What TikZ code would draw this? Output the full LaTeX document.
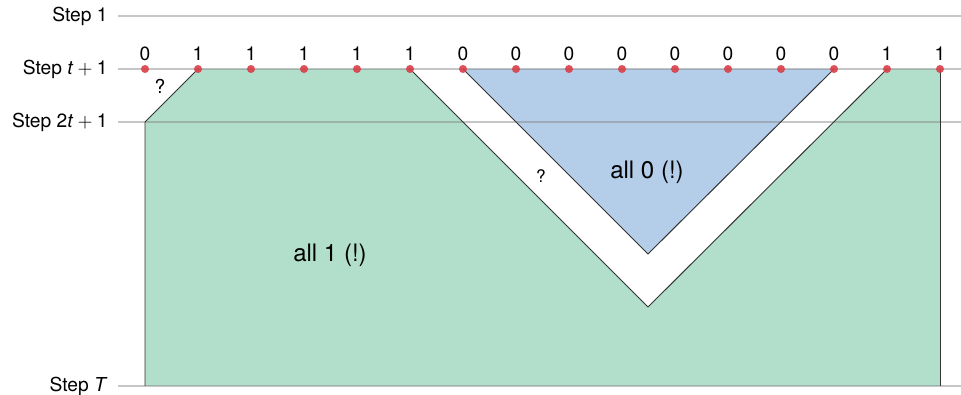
\documentclass[tikz,border=0pt]{standalone}
\usepackage{fontspec}
\setmainfont{TeX Gyre Heros}
\usetikzlibrary{positioning}
\definecolor{allone}{RGB}{178,223,204}
\definecolor{allzero}{RGB}{180,205,232}
\definecolor{dotred}{RGB}{218,62,72}

\begin{document}
\begin{tikzpicture}[x=0.52pt, y=-0.52pt,
    steplbl/.style={anchor=east, inner sep=0pt, font=\normalsize},
    gridline/.style={draw=black!50, draw opacity=0.45, line width=0.85pt},
    rim/.style={draw=black!80, line width=0.5pt},
    dot/.style={circle, fill=dotred, fill opacity=0.9, inner sep=0pt, minimum size=4.2pt},
    bit/.style={inner sep=1pt, font=\normalsize},
    tag/.style={font=\fontsize{12.5}{15}\selectfont}]

    \useasboundingbox (0,0) rectangle (961,395);

    % step labels
    \node[steplbl] (s1) at (108,16) {Step 1};
    \node[steplbl] (st) at (108,69) {Step \textit{t}${}+{}$1};
    \node[steplbl] (s2t) at (108,122) {Step 2\textit{t}${}+{}$1};
    \node[steplbl] (sT) at (108,386) {Step \textit{T}};

    % positions on step t+1
    \foreach \i in {1,...,16}
        \coordinate (p\i) at ({145+53*(\i-1)},69);
    \coordinate (c2t) at (145,122);
    \coordinate (cTl) at (145,386);
    \coordinate (cTr) at (940,386);
    \coordinate (vin) at (648,254);
    \coordinate (vout) at (648,307);

    % regions
    \fill[allone] (c2t) -- (p2) -- (p6) -- (vout) -- (p15) -- (p16) -- (cTr) -- (cTl) -- cycle;
    \fill[allzero] (p7) -- (p14) -- (vin) -- cycle;

    \draw[gridline] (118,16) -- (961,16);
    \draw[gridline] (118,69) -- (961,69);
    \draw[gridline] (118,122) -- (961,122);
    \draw[gridline] (118,386) -- (961,386);

    \draw[rim] (cTl) -- (c2t) -- (p2);
    \draw[rim] (p6) -- (vout) -- (p15);
    \draw[rim] (p16) -- (cTr);
    \draw[rim] (p7) -- (vin) -- (p14);

    % cells
    \foreach \b [count=\i] in {0,1,1,1,1,1,0,0,0,0,0,0,0,0,1,1} {
        \node[dot] (d\i) at (p\i) {};
        \node[bit, above=1pt of d\i] (b\i) {\b};
    }

    \node (q1) at (160,86) {?};
    \node[font=\small] (q2) at (541,176) {?};
    \node[tag] (zero) at (647,172) {all 0 (!)};
    \node[tag] (one) at (330,255) {all 1 (!)};
\end{tikzpicture}
\end{document}
